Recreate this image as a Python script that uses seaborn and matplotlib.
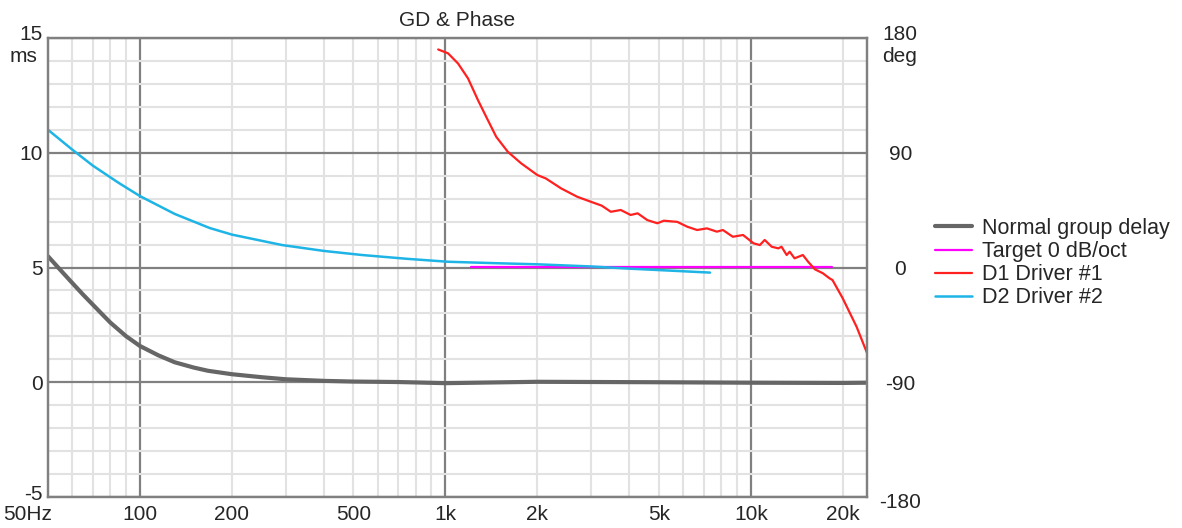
import matplotlib
matplotlib.use('Agg')
import matplotlib.pyplot as plt
import matplotlib.ticker as mticker
import matplotlib.transforms as mtransforms
import seaborn as sns

sns.set_style('white')
plt.rcParams['font.family'] = ['Liberation Sans', 'DejaVu Sans']
plt.rcParams['axes.unicode_minus'] = False

# --- data ---
# normal group delay (ms, left axis)
gd_freq = [50, 55, 60, 65, 70, 75, 80, 90, 100, 115, 130, 150, 167, 200, 250, 300, 400,
           500, 700, 1000, 2000, 5000, 10000, 20000, 24000]
gd_ms = [5.49, 4.88, 4.33, 3.83, 3.39, 2.98, 2.6, 2.01, 1.58, 1.17, 0.87, 0.64, 0.5, 0.35,
         0.22, 0.13, 0.06, 0.03, 0.01, -0.04, 0.02, 0.0, -0.02, -0.03, -0.02]

# target (deg, right axis)
target_freq = [1216, 18400]
target_deg = [0, 0]

# D1 driver #1 phase (deg)
d1_freq = [947, 1020, 1100, 1186, 1278, 1360, 1467, 1600, 1770, 2000, 2130, 2390, 2700,
           2990, 3250, 3480, 3750, 4040, 4260, 4580, 4940, 5190, 5740, 6190, 6670, 7180,
           7740, 8100, 8730, 9430, 10200, 10700, 11100, 11700, 12300, 12600, 13100, 13400,
           13900, 14800, 15400, 16200, 17200, 18100, 18500, 19960, 22200, 24000]
d1_deg = [171, 168, 160, 148.3, 131.3, 118.2, 102.5, 90.8, 81.7, 72.5, 69.9, 62.1, 55.5,
          51.6, 48.5, 43.7, 45.1, 41.2, 42.5, 37.2, 34.7, 36.7, 35.8, 32, 29.4, 30.7,
          28.1, 29.4, 24.1, 25.5, 19, 17.6, 21.6, 16.3, 15, 16.3, 9.8, 12.4,
          7.2, 9.8, 4.5, -1.4, -4.5, -8.5, -9.8, -23.9, -46.6, -67]

# D2 driver #2 phase (deg)
d2_freq = [50, 60, 70, 85, 100, 130, 169, 200, 292, 400, 533, 750, 1020, 1500, 2000,
           3000, 4000, 5500, 7350]
d2_deg = [108, 92.5, 80, 66.5, 56, 42, 31, 25.8, 17.6, 13, 9.8, 6.8, 4.5, 3.3, 2.5,
          0.8, -0.9, -2.5, -4]

x_labels = {50: '50Hz', 100: '100', 200: '200', 500: '500', 1000: '1k', 2000: '2k',
            5000: '5k', 10000: '10k', 20000: '20k'}
left_ticks = [-5, 0, 5, 10, 15]
right_ticks = [-180, -90, 0, 90, 180]

fig = plt.figure(figsize=(11.82, 5.28), dpi=100)
ax = fig.add_axes([48 / 1182, 1 - 497 / 528, 819 / 1182, 459 / 528])
ax2 = ax.twinx()

sns.lineplot(x=gd_freq, y=gd_ms, ax=ax, color='#666666', lw=3,
             label='Normal group delay', legend=False)
sns.lineplot(x=target_freq, y=target_deg, ax=ax2, color='#ff00ff', lw=1.6,
             label='Target 0 dB/oct', legend=False)
sns.lineplot(x=d1_freq, y=d1_deg, ax=ax2, color='#ff2020', lw=1.6,
             label='D1 Driver #1', legend=False)
sns.lineplot(x=d2_freq, y=d2_deg, ax=ax2, color='#1eb4e6', lw=1.8,
             label='D2 Driver #2', legend=False)

ax.set_xscale('log')
ax.set_xlim(50, 24000)
ax.set_ylim(-5, 15)
ax2.set_ylim(-180, 180)

# grid: dark at decades / every 5 ms, light at the rest
ax.xaxis.set_major_locator(mticker.FixedLocator([100, 1000, 10000]))
ax.xaxis.set_minor_locator(mticker.LogLocator(base=10, subs=range(2, 10), numticks=20))
ax.xaxis.set_major_formatter(mticker.FuncFormatter(lambda v, p: x_labels.get(int(round(v)), '')))
ax.xaxis.set_minor_formatter(mticker.FuncFormatter(lambda v, p: x_labels.get(int(round(v)), '')))
ax.yaxis.set_major_locator(mticker.FixedLocator(left_ticks))
ax.yaxis.set_minor_locator(mticker.MultipleLocator(1))
ax.grid(which='major', color='#808080', lw=1.6)
ax.grid(which='minor', color='#e2e2e2', lw=1.5)
ax.set_axisbelow(True)

ax2.set_yticks(right_ticks)
ax2.grid(False)

for a in (ax, ax2):
    for s in a.spines.values():
        s.set_color('#808080')
        s.set_linewidth(1.6)

ax.tick_params(axis='x', which='both', length=0, pad=6, labelsize=15)
ax.tick_params(axis='y', which='both', length=0, pad=4, labelsize=15)
ax2.tick_params(axis='y', length=0, pad=24, labelsize=15)
for lab in ax2.get_yticklabels():
    lab.set_horizontalalignment('center')

ax.set_xlabel('')
ax.set_ylabel('')
ax2.set_ylabel('')


def nudge(lab, dx, dy):
    lab.set_transform(lab.get_transform() + mtransforms.ScaledTranslation(dx / 100, dy / 100, fig.dpi_scale_trans))


fig.canvas.draw()
for lab in ax.xaxis.get_minorticklabels():
    if lab.get_text() == '50Hz':
        lab.set_horizontalalignment('right')
        nudge(lab, 4, 0)
for lab in ax.get_yticklabels():
    if lab.get_text() == '15':
        nudge(lab, 0, 5)
    elif lab.get_text() == '-5':
        nudge(lab, 0, 4)
for lab in ax2.get_yticklabels():
    if lab.get_text() == '180':
        nudge(lab, 0, 5)
    elif lab.get_text() == '-180':
        nudge(lab, 0, -4)

ax.set_title('GD & Phase', fontsize=15, pad=9)
fig.text(37 / 1182, 1 - 57 / 528, 'ms', ha='right', va='center', fontsize=15)
fig.text(900 / 1182, 1 - 57 / 528, 'deg', ha='center', va='center', fontsize=15)

handles = ax.get_lines()[:1] + ax2.get_lines()[:3]
labels = ['Normal group delay', 'Target 0 dB/oct', 'D1 Driver #1', 'D2 Driver #2']
fig.legend(handles, labels, loc='upper left', bbox_to_anchor=(935 / 1182, 1 - 218 / 528),
           frameon=False, fontsize=15.5, handlelength=1.72, handletextpad=0.47,
           labelspacing=0.1, borderaxespad=0, borderpad=0)

fig.savefig('out.png', dpi=100)
